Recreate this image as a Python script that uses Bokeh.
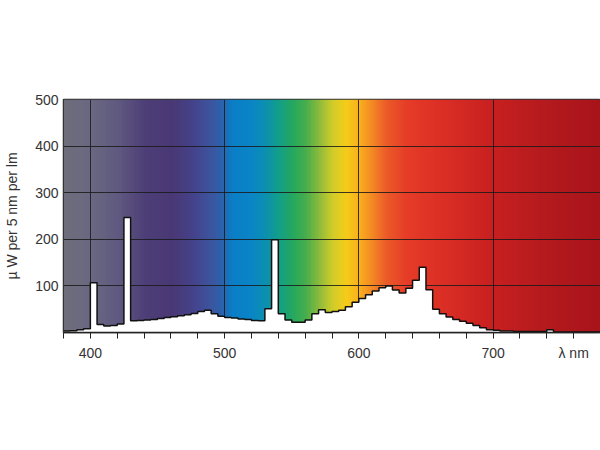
import numpy as np
from bokeh.plotting import figure
from bokeh.models import FixedTicker, Range1d
from bokeh.embed import file_html
from bokeh.resources import INLINE

# 5 nm bins (start wavelength) and values in µW per 5 nm per lm
wavelength = list(range(380, 780, 5))
power = [3, 4, 6, 8, 107, 17, 14, 15, 18, 247,
         25, 26, 27, 28, 30, 32, 34, 36, 38, 41,
         45, 48, 40, 35, 32, 31, 29, 28, 26, 25,
         51, 199, 40, 27, 22, 22, 27, 40, 49, 43,
         45, 48, 55, 65, 73, 81, 89, 96, 100, 91,
         85, 95, 112, 140, 92, 50, 40, 33, 28, 24,
         20, 15, 10, 6, 5, 3, 3, 2, 2, 2,
         2, 2, 6, 1, 1, 1, 1, 1, 1, 1]

x_ticks = [380, 400, 420, 440, 460, 480, 500, 520, 540, 560, 580,
           600, 620, 640, 660, 680, 700, 720, 740, 760]
x_labels = {400: "400", 500: "500", 600: "600", 700: "700", 760: "λ nm"}
y_ticks = [100, 200, 300, 400, 500]

# spectrum background colour stops (style)
stop_nm = [380, 400, 420, 440, 460, 475, 490, 498, 505, 520, 530, 540, 550, 560,
           570, 580, 590, 600, 610, 620, 635, 660, 700, 740, 780]
stop_col = ["#6e6e7c", "#6a6882", "#605a80", "#4e3f78", "#4a3875", "#45428a",
            "#3d56a0", "#2a64ae", "#0a7ec6", "#0a86c6", "#0c90b0", "#13a088",
            "#25a860", "#48ae4c", "#8cbc3c", "#d2cc2a", "#f6cc18", "#f9ae1e",
            "#f48624", "#ec5a28", "#e63c28", "#dc3026", "#c82020", "#b41a1e",
            "#a8141a"]

X0, X1 = 380, 780

p = figure(output_backend="svg", toolbar_location=None,
           frame_width=537, frame_height=233,
           min_border_left=63, min_border_right=0, min_border_top=99,
           min_border_bottom=40,
           x_range=Range1d(X0, X1), y_range=Range1d(0, 500))
p.background_fill_color = "white"
p.border_fill_color = "white"
p.outline_line_color = "#333333"
p.outline_line_width = 1.5

# gradient image
nm = np.arange(380, 781, 1.0)
rgb = np.array([[int(c[i:i + 2], 16) for i in (1, 3, 5)] for c in stop_col], dtype=float)
img = np.zeros((1, len(nm)), dtype=np.uint32)
view = img.view(dtype=np.uint8).reshape((1, len(nm), 4))
for k in range(3):
    view[0, :, k] = np.interp(nm, stop_nm, rgb[:, k]).astype(np.uint8)
view[0, :, 3] = 255
p.image_rgba(image=[img], x=380, y=0, dw=401, dh=500, level="image")

# white area under the spectrum and its outline
xs = wavelength + [780]
ys = power + [power[-1]]
p.varea_step(x=xs, y1=[0] * len(xs), y2=ys, step_mode="after", fill_color="white")
p.step(x=xs, y=ys, mode="after", line_color="#111111", line_width=1.5)

# grid
p.xgrid.ticker = FixedTicker(ticks=[400, 500, 600, 700])
p.ygrid.ticker = FixedTicker(ticks=y_ticks)
for g in (p.xgrid, p.ygrid):
    g.grid_line_color = "#1a1a1a"
    g.grid_line_width = 1
    g.grid_line_alpha = 0.85

# axes
p.xaxis.ticker = FixedTicker(ticks=x_ticks)
p.xaxis.major_label_overrides = {t: x_labels.get(t, "") for t in x_ticks}
p.xaxis.major_tick_in = 0
p.xaxis.major_tick_out = 6
p.xaxis.minor_tick_line_color = None
p.xaxis.axis_line_color = "#222222"
p.xaxis.axis_line_width = 1.5
p.xaxis.major_tick_line_color = "#222222"
p.xaxis.major_label_standoff = 6

p.yaxis.ticker = FixedTicker(ticks=y_ticks)
p.yaxis.major_tick_line_color = None
p.yaxis.major_tick_in = 0
p.yaxis.major_tick_out = 0
p.yaxis.minor_tick_line_color = None
p.yaxis.axis_line_color = "#333333"
p.yaxis.major_label_standoff = 5
p.yaxis.axis_label = "µ W per 5 nm per lm"
p.yaxis.axis_label_standoff = 12
p.yaxis.axis_label_text_font_style = "normal"

for ax in (p.xaxis, p.yaxis):
    ax.major_label_text_font = "Liberation Sans"
    ax.major_label_text_font_size = "14px"
    ax.major_label_text_color = "#333333"
    ax.axis_label_text_font = "Liberation Sans"
    ax.axis_label_text_font_size = "14px"
    ax.axis_label_text_color = "#333333"

open("out.html", "w").write(file_html(p, INLINE))
